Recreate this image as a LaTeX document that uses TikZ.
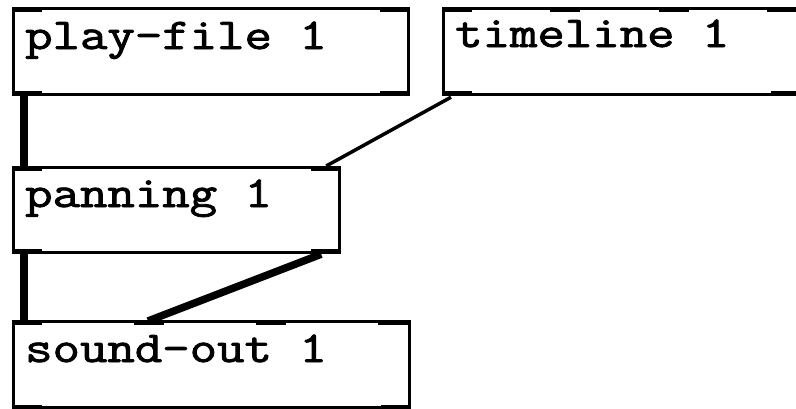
\documentclass[tikz,border=0pt]{standalone}
\usepackage{fontspec}
\newfontfamily\pdmono{Latin Modern Mono}[FakeBold=1.8]
\usetikzlibrary{calc}
\tikzset{
  pdbox/.style={draw=black, line width=3.2pt, rectangle, inner sep=0pt, anchor=north west},
  pdtext/.style={anchor=base west, inner sep=0pt, font=\pdmono\fontsize{44}{44}\selectfont},
  port/.style={fill=black},
  sigline/.style={line width=7.5pt, draw=black},
  ctlline/.style={line width=3.5pt, draw=black},
}
\newcommand{\pdlabel}[1]{\scalebox{1.21}[1]{#1}}
\begin{document}
\begin{tikzpicture}[x=1pt,y=-1pt]
\useasboundingbox (0,0) rectangle (796,408);
\clip (0,0) rectangle (796,408);
\fill[white] (0,0) rectangle (796,408);
% boxes
\node[pdbox, minimum width=395pt, minimum height=86pt] (pf) at (12,7) {};
\node[pdbox, minimum width=356pt, minimum height=86pt] (tl) at (442,7) {};
\node[pdbox, minimum width=326pt, minimum height=85pt] (pan) at (12,166) {};
\node[pdbox, minimum width=396pt, minimum height=86pt] (so) at (12,320) {};
% texts
\node[pdtext] (pft) at ($(pf.north west)+(13,42)$) {\pdlabel{play-file 1}};
\node[pdtext] (tlt) at ($(tl.north west)+(13,40)$) {\pdlabel{timeline 1}};
\node[pdtext] (pant) at ($(pan.north west)+(13,41)$) {\pdlabel{panning 1}};
\node[pdtext] (sot) at ($(so.north west)+(13,42)$) {\pdlabel{sound-out 1}};
% ports
\foreach \b in {pf,pan}{
  \fill[port] (\b.north west) rectangle ++(30,5);
  \fill[port] (\b.north east) rectangle ++(-30,5);
  \fill[port] (\b.south west) rectangle ++(30,-5);
  \fill[port] (\b.south east) rectangle ++(-30,-5);
}
\foreach \dx in {0,108,217,325}{
  \fill[port] ($(tl.north west)+(\dx,0)$) rectangle ++(30,5);
}
\fill[port] (tl.south west) rectangle ++(30,-5);
\fill[port] (tl.south east) rectangle ++(-30,-5);
\foreach \dx in {0,122,244,366}{
  \fill[port] ($(so.north west)+(\dx,0)$) rectangle ++(30,5);
}
\fill[port] (so.south west) rectangle ++(30,-4);
\fill[port] (so.south east) rectangle ++(-30,-4);
% port coordinates
\coordinate (pfout0) at ($(pf.south west)+(12,0)$);
\coordinate (panin0) at ($(pan.north west)+(12,0)$);
\coordinate (panin1) at ($(pan.north east)+(-15,0)$);
\coordinate (panout0) at ($(pan.south west)+(12,0)$);
\coordinate (panout1) at ($(pan.south east)+(-20,0)$);
\coordinate (tlout0) at ($(tl.south west)+(9,1)$);
\coordinate (soin0) at ($(so.north west)+(12,0)$);
\coordinate (soin1) at ($(so.north west)+(136,1)$);
% connections
\draw[sigline] (pfout0) -- (panin0);
\draw[ctlline] (tlout0) -- (panin1);
\draw[sigline] (panout0) -- (soin0);
\draw[sigline] (panout1) -- (soin1);
\end{tikzpicture}
\end{document}
